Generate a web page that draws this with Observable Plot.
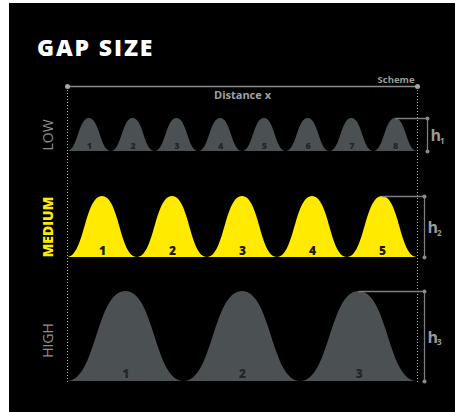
<!DOCTYPE html>
<html>
<head>
<meta charset="utf-8">
<script src="https://cdn.jsdelivr.net/npm/d3@7"></script>
<script src="https://cdn.jsdelivr.net/npm/@observablehq/plot@0.6"></script>
<style>
  html, body { margin: 0; padding: 0; background: #fff; }
  #frame { position: absolute; left: 9px; top: 3px; width: 446px; height: 409px; background: #000; }
  #title { position: absolute; left: 37px; top: 36px; margin: 0; font-family: "Open Sans", sans-serif;
           font-weight: 800; font-size: 23px; line-height: 23px; letter-spacing: 1.9px; color: #fff; }
  #chart { position: absolute; left: 0; top: 0; }
</style>
</head>
<body>
<div id="frame"></div>
<h1 id="title">GAP SIZE</h1>
<div id="chart"></div>
<script>
// ---- data ----
const rows = ["LOW", "MEDIUM", "HIGH"];
const bumpCounts = [8, 5, 3];
const bumpHeights = [33, 61, 90];
const heightSymbols = ["h", "h", "h"];
const heightSubscripts = ["1", "2", "3"];
const schemeLabel = "Scheme";
const axisLabel = "Distance x";

// ---- layout (not data) ----
const rowBase = [230, 124, 0];
const bracketX = [1.0286, 1.02, 1.02];
const schemeY = 295;
const gray = "#4b5153";
const yellow = "#ffea00";
const labelGray = "#8f8f8f";

const bumpPts = rows.flatMap((row, r) => {
  const n = bumpCounts[r];
  return d3.range(2 * n + 1).map(k => ({
    row, x: k / (2 * n), y1: rowBase[r], y2: rowBase[r] + (k % 2 ? bumpHeights[r] : 0)
  }));
});

const marks = [];
// dotted vertical bounds
marks.push(Plot.ruleX([0, 1], {y1: -1, y2: schemeY, stroke: "#b0b0b0", strokeWidth: 1, strokeDasharray: "1,2"}));
// bumps
marks.push(Plot.areaY(bumpPts, {x: "x", y1: "y1", y2: "y2", z: "row", fill: "row", curve: "bump-x"}));

rows.forEach((row, r) => {
  const n = bumpCounts[r];
  const base = rowBase[r], h = bumpHeights[r];
  const nums = d3.range(n).map(i => ({x: (i + 0.5) / n, y: base, t: String(i + 1)}));
  marks.push(Plot.text(nums, {
    x: "x", y: "y", text: "t", dy: r === 0 ? -5 : (r === 1 ? -6 : -7),
    fontSize: r === 0 ? 9 : 12, fontWeight: 800,
    fill: r === 1 ? "#1a1a1a" : "#222628"
  }));
  // row label
  marks.push(Plot.text([row], {
    x: -0.054, y: base + h / 2, dy: r === 2 ? 4 : 0, text: d => d, rotate: -90,
    fontSize: 14, fontWeight: r === 1 ? 800 : 400, fill: r === 1 ? yellow : labelGray
  }));
  // height bracket
  const bx = bracketX[r];
  marks.push(Plot.ruleY([base + h], {x1: (n - 0.5) / n, x2: bx, stroke: "#7d7d7d", strokeWidth: 1.3}));
  marks.push(Plot.ruleX([bx], {y1: base, y2: base + h, stroke: "#7d7d7d", strokeWidth: 1.3}));
  marks.push(Plot.dot([[bx, base], [bx, base + h]], {r: 2, fill: "#8a8a8a", stroke: null}));
  marks.push(Plot.text([heightSymbols[r]], {
    x: bx, y: base + h / 2, dx: 3, dy: 1, text: d => d, textAnchor: "start",
    fontSize: 16, fontWeight: "bold", fill: "#9a9a9a"
  }));
  marks.push(Plot.text([heightSubscripts[r]], {
    x: bx, y: base + h / 2, dx: 12.5, dy: 6, text: d => d, textAnchor: "start",
    fontSize: 8, fontWeight: "bold", fill: "#9a9a9a"
  }));
});

// scheme line
marks.push(Plot.ruleY([schemeY], {x1: 0, x2: 1, stroke: "#8a8a8a", strokeWidth: 1.5}));
marks.push(Plot.dot([[0, schemeY], [1, schemeY]], {r: 2.5, fill: "#a8a8a8", stroke: null}));
marks.push(Plot.text([schemeLabel], {x: 1, y: schemeY, dx: -3, dy: -7, textAnchor: "end", text: d => d,
  fontSize: 9.5, fontWeight: "bold", fill: "#9a9a9a"}));
marks.push(Plot.text([axisLabel], {x: 0.5, y: schemeY, dy: 9, text: d => d,
  fontSize: 11, fontWeight: "bold", fill: "#a0a0a0"}));

const chart = Plot.plot({
  width: 455, height: 412,
  marginLeft: 67, marginRight: 38, marginTop: 81, marginBottom: 31,
  x: {domain: [0, 1], axis: null},
  y: {domain: [0, 300], axis: null},
  color: {type: "ordinal", domain: rows, range: [gray, yellow, gray]},
  style: {background: "transparent", fontFamily: "'Open Sans', sans-serif", overflow: "visible"},
  marks
});
document.getElementById("chart").appendChild(chart);
</script>
</body>
</html>
